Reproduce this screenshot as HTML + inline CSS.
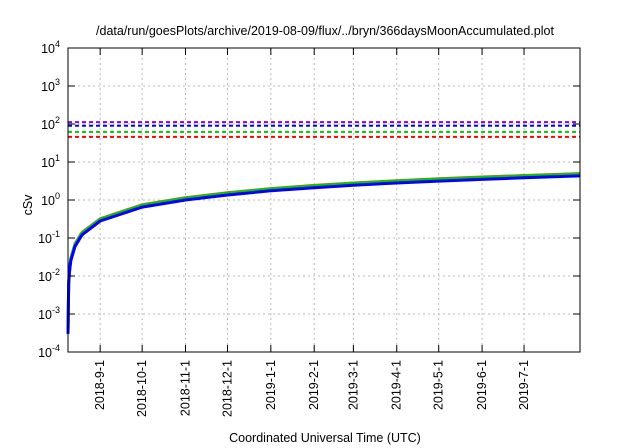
<!DOCTYPE html>
<html><head><meta charset="utf-8"><style>
body{margin:0;background:#fff}
svg{display:block;font-family:"Liberation Sans",sans-serif}
</style></head><body>
<svg id="c" width="640" height="448" viewBox="0 0 640 448">
<text x="325" y="35" text-anchor="middle" font-size="12.5" fill="#000">/data/run/goesPlots/archive/2019-08-09/flux/../bryn/366daysMoonAccumulated.plot</text>
<text transform="translate(32,205) rotate(-90)" text-anchor="middle" font-size="12.5">cSv</text>
<text x="325" y="442" text-anchor="middle" font-size="12.5">Coordinated Universal Time (UTC)</text>
<g id="grid"></g><g id="series"></g><g id="axes"></g>
</svg>
<script>
const yExps=[-4,-3,-2,-1,0,1,2,3,4];
const xTickLabels=["2018-9-1","2018-10-1","2018-11-1","2018-12-1","2019-1-1","2019-2-1","2019-3-1","2019-4-1","2019-5-1","2019-6-1","2019-7-1"];
const xTickDays=[23,53,84,114,145,176,204,235,265,296,326];
const refNames=["purple-limit","blue-limit","green-limit","red-limit"];
const refValues=[112,90,62,46];
const refColors=["#9400d3","#0000ff","#00cc00","#ff0000"];
const days=[0,0.5,1,2,5,10,23,53,84,114,145,176,204,235,265,296,326,366];
const redVals=[0.0004,0.007,0.014,0.029,0.07,0.14,0.32,0.75,1.15,1.55,2.0,2.42,2.8,3.22,3.62,4.02,4.42,4.95];
const greenVals=[0.00035,0.0068,0.0135,0.028,0.067,0.135,0.31,0.73,1.12,1.51,1.96,2.36,2.74,3.14,3.53,3.92,4.31,4.82];
const blueVals=[0.0003,0.006,0.012,0.025,0.06,0.12,0.28,0.65,1.0,1.35,1.75,2.1,2.45,2.8,3.15,3.5,3.85,4.3];
const L=68,R=580,T=48,B=352,ND=366;
const xs=d=>L+(R-L)*d/ND;
const ys=v=>B-(Math.log10(v)+4)*(B-T)/8;
const NS="http://www.w3.org/2000/svg";
function mk(tag,parent,attrs){const e=document.createElementNS(NS,tag);for(const k in attrs)e.setAttribute(k,attrs[k]);parent.appendChild(e);return e;}
const grid=document.getElementById('grid'),ser=document.getElementById('series'),ax=document.getElementById('axes');
yExps.forEach(e=>{const y=ys(Math.pow(10,e));
 if(e>-4&&e<4){const g=mk('line',grid,{x1:L,x2:R,y1:y,y2:y,stroke:'#bbb','stroke-dasharray':'2,3','stroke-width':1});
 
 }
 const t1=mk('line',ax,{x1:L,x2:L+7,y1:y,y2:y,stroke:'#000'});
 
 
 const t2=mk('line',ax,{x1:R-7,x2:R,y1:y,y2:y,stroke:'#000'});
 
 
 const tx=mk('text',ax,{x:L-8,y:y+5,'text-anchor':'end','font-size':'12.5'});
 
 
 tx.appendChild(document.createTextNode('10'));
 const sp=mk('tspan',tx,{dy:-6,'font-size':'9'});sp.textContent=e;
});
xTickDays.forEach((d,i)=>{const x=xs(d);
 const g=mk('line',grid,{x1:x,x2:x,y1:T,y2:B,stroke:'#bbb','stroke-dasharray':'2,3','stroke-width':1});
 
 
 const t1=mk('line',ax,{x1:x,x2:x,y1:B,y2:B-7,stroke:'#000'});
 
 
 const t2=mk('line',ax,{x1:x,x2:x,y1:T,y2:T+7,stroke:'#000'});
 
 
 const tx=mk('text',ax,{transform:`translate(${x+4},360) rotate(-90)`,'text-anchor':'end','font-size':'12.5'});
 
 
 tx.textContent=xTickLabels[i];
});
refValues.forEach((v,i)=>{const y=ys(v);
 const l=mk('line',ser,{x1:L,x2:R,y1:y,y2:y,stroke:refColors[i],'stroke-width':2,'stroke-dasharray':'4,3'});
 
 
});
[[redVals,'#e8502a','red-dose-curve'],[greenVals,'#00cc00','green-dose-curve'],[blueVals,'#0000ff','blue-dose-curve']].forEach(([vals,col,nm])=>{
 const p=mk('polyline',ser,{points:days.map((d,i)=>xs(d)+','+ys(vals[i])).join(' '),fill:'none',stroke:col,'stroke-width':3,'stroke-linejoin':'round'});
 
 
});
const fr=mk('rect',ax,{x:L,y:T,width:R-L,height:B-T,fill:'none',stroke:'#000','stroke-width':1});


</script>
</body></html>
